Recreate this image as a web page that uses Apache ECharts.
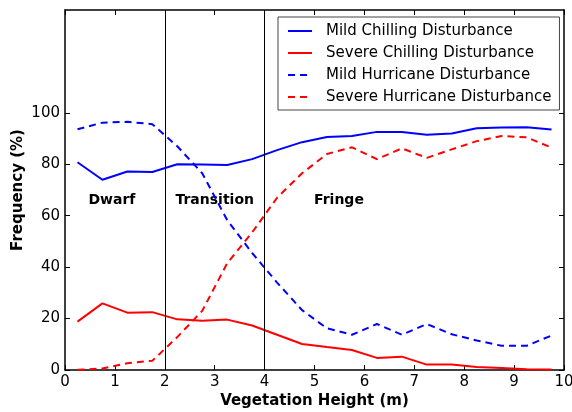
<!DOCTYPE html>
<html>
<head>
    <meta charset="utf-8">
    <title>Vegetation Height</title>
    <script src="https://cdn.jsdelivr.net/npm/echarts@6.0.0/dist/echarts.min.js"></script>
    <style>
        html, body { margin: 0; padding: 0; background: #fff; }
    </style>
</head>
<body>
    <div id="chart" style="width: 572px; height: 412px;"></div>

    <script>
        // heights (m), one point per 0.5 m bin
        var heights = [0.25, 0.75, 1.25, 1.75, 2.25, 2.75, 3.25, 3.75, 4.25, 4.75,
                       5.25, 5.75, 6.25, 6.75, 7.25, 7.75, 8.25, 8.75, 9.25, 9.75];

        var mildChilling   = [80.8, 74.0, 77.2, 77.0, 80.0, 79.9, 79.7, 82.0, 85.5, 88.6,
                              90.6, 91.0, 92.6, 92.6, 91.5, 92.0, 94.0, 94.3, 94.4, 93.5];
        var severeChilling = [18.8, 25.9, 22.3, 22.5, 19.7, 19.2, 19.6, 17.3, 13.7, 10.1,
                              8.9, 7.8, 4.7, 5.2, 2.1, 2.1, 1.2, 0.8, 0.3, 0.2];
        var mildHurricane  = [93.6, 96.2, 96.5, 95.6, 87.0, 76.5, 58.3, 45.5, 34.0, 23.3,
                              16.2, 13.7, 17.9, 13.7, 17.9, 13.9, 11.5, 9.4, 9.4, 13.4];
        var severeHurricane = [0.1, 0.6, 2.6, 3.6, 12.8, 23.0, 41.5, 53.5, 67.0, 76.5,
                               84.0, 86.6, 82.0, 86.2, 82.5, 85.8, 89.0, 91.0, 90.5, 86.5];

        var seriesNames = ['Mild Chilling Disturbance', 'Severe Chilling Disturbance',
                           'Mild Hurricane Disturbance', 'Severe Hurricane Disturbance'];

        var yTicks = [0, 20, 40, 60, 80, 100];
        var zoneBounds = [2, 4];
        var zoneNames = ['Dwarf', 'Transition', 'Fringe'];
        var zoneX = [0.94, 3.0, 5.49];
        var zoneY = [66.0, 66.0, 66.0];

        function pairs(ys) {
            return heights.map(function (h, i) { return [h, ys[i]]; });
        }

        var font = 'DejaVu Sans';
        var chart = echarts.init(document.getElementById('chart'));

        // box axes like matplotlib: ticks inward on all four sides
        var axisLine = { show: true, onZero: false, lineStyle: { color: '#000', width: 1.5 } };
        var tickStyle = { color: '#000', width: 1 };

        var option = {
            animation: false,
            textStyle: { fontFamily: font },
            grid: { left: 65, right: 8, top: 10, bottom: 42, outerBoundsMode: 'none', containLabel: false },
            legend: {
                data: seriesNames,
                orient: 'vertical',
                left: 278,
                top: 17,
                padding: [6, 8, 5, 9],
                itemGap: 6,
                itemWidth: 24,
                itemHeight: 14,
                itemStyle: { opacity: 0 },
                borderColor: '#444',
                borderWidth: 1,
                textStyle: { fontFamily: font, fontSize: 15, color: '#000', padding: [0, 0, 0, 9], lineHeight: 16 }
            },
            xAxis: [{
                type: 'value',
                min: 0, max: 10, interval: 1,
                name: 'Vegetation Height (m)',
                nameLocation: 'middle',
                nameGap: 24,
                nameMoveOverlap: false,
                nameTextStyle: { fontFamily: font, fontSize: 15, fontWeight: 'bold', color: '#000' },
                axisLine: axisLine,
                axisTick: { inside: true, length: 5, lineStyle: tickStyle },
                axisLabel: { fontFamily: font, fontSize: 15, color: '#000', margin: 5 },
                splitLine: { show: false }
            }, {
                type: 'value',
                position: 'top',
                min: 0, max: 10, interval: 1,
                axisLine: axisLine,
                axisTick: { inside: true, length: 5, lineStyle: tickStyle },
                axisLabel: { show: false },
                splitLine: { show: false }
            }],
            yAxis: [{
                type: 'value',
                min: 0, max: 140, interval: 20,
                name: 'Frequency (%)',
                nameLocation: 'middle',
                nameGap: 39,
                nameMoveOverlap: false,
                nameTextStyle: { fontFamily: font, fontSize: 15, fontWeight: 'bold', color: '#000' },
                axisLine: axisLine,
                axisTick: { show: true, inside: true, length: 5, customValues: yTicks, lineStyle: tickStyle },
                axisLabel: { fontFamily: font, fontSize: 15, color: '#000', margin: 5, customValues: yTicks },
                splitLine: { show: false }
            }, {
                type: 'value',
                position: 'right',
                min: 0, max: 140, interval: 20,
                axisLine: axisLine,
                axisTick: { show: true, inside: true, length: 5, customValues: yTicks, lineStyle: tickStyle },
                axisLabel: { show: false },
                splitLine: { show: false }
            }],
            series: [{
                name: seriesNames[0],
                type: 'line',
                symbol: 'none',
                data: pairs(mildChilling),
                lineStyle: { color: '#0000ff', width: 2 },
                itemStyle: { color: '#0000ff' },
                markLine: {
                    silent: true,
                    symbol: 'none',
                    label: { show: false },
                    lineStyle: { color: '#000', width: 1, type: 'solid' },
                    data: zoneBounds.map(function (b) { return { xAxis: b }; })
                }
            }, {
                name: seriesNames[1],
                type: 'line',
                symbol: 'none',
                data: pairs(severeChilling),
                lineStyle: { color: '#ff0000', width: 2 },
                itemStyle: { color: '#ff0000' }
            }, {
                name: seriesNames[2],
                type: 'line',
                symbol: 'none',
                data: pairs(mildHurricane),
                lineStyle: { color: '#0000ff', width: 2, type: [7, 5] },
                itemStyle: { color: '#0000ff' }
            }, {
                name: seriesNames[3],
                type: 'line',
                symbol: 'none',
                data: pairs(severeHurricane),
                lineStyle: { color: '#ff0000', width: 2, type: [7, 5] },
                itemStyle: { color: '#ff0000' }
            }, {
                // zone labels
                type: 'scatter',
                symbolSize: 0,
                silent: true,
                itemStyle: { opacity: 1 },
                data: zoneNames.map(function (n, i) { return [zoneX[i], zoneY[i], n]; }),
                label: {
                    show: true,
                    position: 'inside',
                    formatter: function (p) { return p.value[2]; },
                    fontFamily: font, fontSize: 14, fontWeight: 'bold', color: '#000',
                    textBorderWidth: 0
                }
            }]
        };
        chart.setOption(option);
    </script>
</body>
</html>
